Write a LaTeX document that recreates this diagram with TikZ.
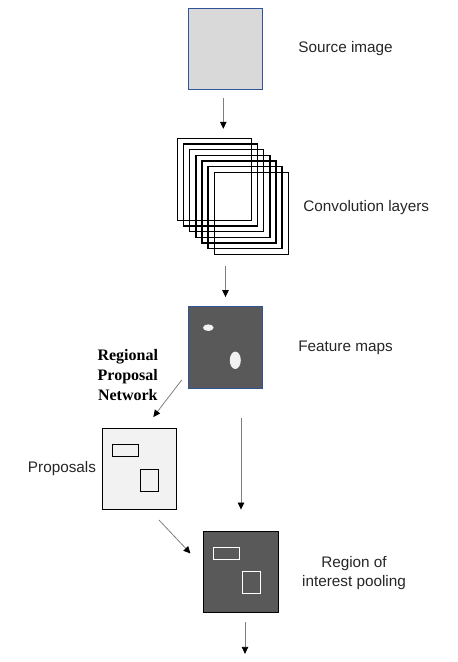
\documentclass[tikz,border=0pt]{standalone}
\usepackage{fontspec}
\setmainfont{Liberation Sans}
\newfontfamily\rpnfont{Liberation Serif}
\usetikzlibrary{arrows.meta}
\definecolor{srcfill}{HTML}{D9D9D9}
\definecolor{boxblue}{HTML}{2F5597}
\definecolor{darkfill}{HTML}{595959}
\definecolor{propfill}{HTML}{F2F2F2}
\definecolor{arrgray}{HTML}{7F7F7F}
\definecolor{txt}{HTML}{262626}
\tikzset{
  imgbox/.style={draw, rectangle, inner sep=0pt, outer sep=0pt, line width=1pt},
  convbox/.style={draw=black, rectangle, inner sep=0pt, outer sep=0pt, line width=1.4pt,
    minimum width=74pt, minimum height=82pt},
  arr/.style={draw=arrgray, line width=0.8pt, -{Triangle[black,length=7pt,width=6.5pt]}},
  lbl/.style={inner sep=0pt, outer sep=0pt, text=txt, font=\fontsize{15.3}{18.7}\selectfont},
}
\begin{document}
\begin{tikzpicture}[x=1pt,y=-1pt]
\useasboundingbox (0,0) rectangle (458,662);
% source image
\node[imgbox, draw=boxblue, fill=srcfill, minimum width=74.4pt, minimum height=81pt] (src) at (225.5,48.8) {};
\node[lbl, anchor=west] (srclbl) at (298.3,48.8) {Source image};
% convolution layers
\foreach \i in {0,...,6} {
  \node[convbox] (conv\i) at ({214.3+6.17*\i},{179.3+5.67*\i}) {};
}
\node[lbl, anchor=west] (convlbl) at (303.3,207.5) {Convolution layers};
% feature maps
\node[imgbox, draw=boxblue, fill=darkfill, minimum width=74.4pt, minimum height=82.7pt] (feat) at (225.5,347.4) {};
\fill[propfill] (208.3,327.7) ellipse [x radius=5.3pt, y radius=3.3pt];
\fill[propfill] (235.3,360.3) ellipse [x radius=5.5pt, y radius=8.7pt];
\node[lbl, anchor=west] (featlbl) at (298.3,347.5) {Feature maps};
% RPN label
\node[inner sep=0pt, align=center, font=\rpnfont\bfseries\fontsize{16}{20}\selectfont] (rpn) at (127.8,375.5) {Regional\\Proposal\\Network};
% proposals
\node[imgbox, draw=black, fill=propfill, minimum width=74pt, minimum height=81pt] (prop) at (139.3,468.8) {};
\draw[line width=1pt] (112.3,444.3) rectangle (138.3,456);
\draw[line width=1pt] (140.3,469.3) rectangle (158.3,491.3);
\node[lbl, anchor=east] (proplbl) at (96,468.5) {Proposals};
% ROI pooling
\node[imgbox, draw=black, fill=darkfill, minimum width=75.4pt, minimum height=81.3pt] (roi) at (241,571.7) {};
\draw[white, line width=1pt] (213.3,547.3) rectangle (239.3,559.3);
\draw[white, line width=1pt] (242.3,571.7) rectangle (260.7,593.3);
\node[lbl, align=center] (roilbl) at (354,573) {Region of\\interest pooling};
% connectors
\coordinate (a1s) at (223.3,97.7);
\coordinate (a1e) at (223.3,128.8);
\draw[arr] (a1s) -- (a1e);
\draw[arr] ([yshift=40pt]feat.north) -- ([yshift=9pt]feat.north);
\draw[arr] ([yshift=-29.5pt]feat.south -| roi.north) -- ([yshift=21.5pt]roi.north);
\coordinate (rpns) at (181.7,380);
\coordinate (rpne) at (153.3,417);
\draw[arr] (rpns) -- (rpne);
\coordinate (ps) at (159,520);
\coordinate (pe) at (190.5,553.5);
\draw[arr] (ps) -- (pe);
\draw[arr] ([xshift=4pt,yshift=-9.5pt]roi.south) -- ([xshift=4pt,yshift=-41.5pt]roi.south);
\end{tikzpicture}
\end{document}
